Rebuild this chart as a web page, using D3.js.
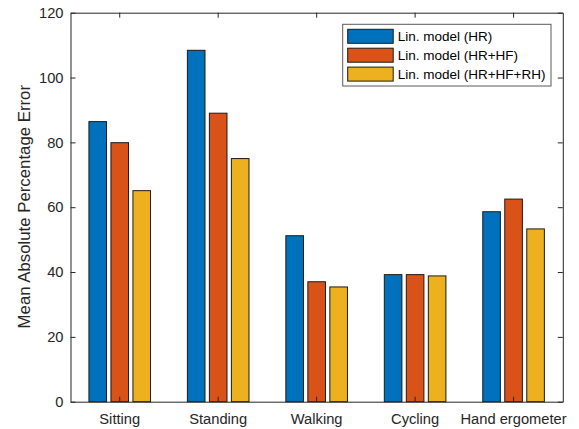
<!DOCTYPE html>
<html><head><meta charset="utf-8">
<script src="https://cdn.jsdelivr.net/npm/d3@7"></script>
<style>html,body{margin:0;padding:0;background:#fff;}</style>
</head><body>
<svg id="chart" width="579" height="429"></svg>
<script>
const categories = ["Sitting", "Standing", "Walking", "Cycling", "Hand ergometer"];
const seriesNames = ["Lin. model (HR)", "Lin. model (HR+HF)", "Lin. model (HR+HF+RH)"];
const linHR = [86.4, 108.4, 51.2, 39.2, 58.6];
const linHRHF = [79.9, 89.0, 37.0, 39.2, 62.5];
const linHRHFRH = [65.1, 75.0, 35.4, 38.8, 53.3];
const yTicks = [0, 20, 40, 60, 80, 100, 120];
const yLabel = "Mean Absolute Percentage Error";
const colors = ["#0072BD", "#D95319", "#EDB120"];

const series = [linHR, linHRHF, linHRHFRH];
const svg = d3.select("#chart");
const L = 70.5, R = 562.8, T = 12.7, B = 401.7;
const axisColor = "#262626";
const font = "Arial, 'Liberation Sans', Helvetica, sans-serif";

const x = d3.scaleBand().domain(categories).range([L, R]).padding(0);
const xs = d3.scaleBand().domain(d3.range(series.length)).range([-33, 33]).paddingInner(0.2).paddingOuter(0.1);
const y = d3.scaleLinear().domain([0, 120]).range([B, T]);

// bars
const g = svg.append("g");
series.forEach((vals, si) => {
  g.selectAll(null).data(vals).enter().append("rect")
    .attr("x", (d, i) => x(categories[i]) + x.bandwidth() / 2 + xs(si))
    .attr("width", xs.bandwidth())
    .attr("y", d => y(d))
    .attr("height", d => B - y(d))
    .attr("fill", colors[si])
    .attr("stroke", "#1a1a1a")
    .attr("stroke-width", 1);
});

// axes
const fs = "14.7px";
const xAxis = d3.axisBottom(x).tickSizeInner(-5).tickSizeOuter(0).tickPadding(12);
const xg = svg.append("g").attr("transform", `translate(0,${B})`).call(xAxis);
const xTop = d3.axisTop(x).tickSizeInner(-5).tickSizeOuter(0).tickFormat("");
const xtg = svg.append("g").attr("transform", `translate(0,${T})`).call(xTop);
const yAxis = d3.axisLeft(y).tickValues(yTicks).tickSizeInner(-5).tickSizeOuter(0).tickPadding(7);
const yg = svg.append("g").attr("transform", `translate(${L},0)`).call(yAxis);
const yRight = d3.axisRight(y).tickValues(yTicks).tickSizeInner(-5).tickSizeOuter(0).tickFormat("");
const yrg = svg.append("g").attr("transform", `translate(${R},0)`).call(yRight);
[xg, xtg, yg, yrg].forEach(a => {
  a.selectAll("path.domain").attr("stroke", axisColor).attr("stroke-width", 1);
  a.selectAll(".tick line").attr("stroke", axisColor).attr("stroke-width", 1);
  a.selectAll("text").attr("fill", axisColor).style("font-family", font).style("font-size", fs);
});
xg.selectAll(".tick text").attr("dy", "0.71em").attr("y", 12);

// y label
svg.append("text")
  .attr("transform", `translate(30,${(T + B) / 2 - 0.5}) rotate(-90)`)
  .attr("text-anchor", "middle")
  .attr("fill", axisColor)
  .style("font-family", font).style("font-size", "16.8px")
  .text(yLabel);

// legend
const lx = 342.7, ly = 24.3, lw = 208.3, lh = 61.7;
const lg = svg.append("g");
lg.append("rect").attr("x", lx).attr("y", ly).attr("width", lw).attr("height", lh)
  .attr("fill", "#fff").attr("stroke", "#5a5a5a").attr("stroke-width", 1);
seriesNames.forEach((name, i) => {
  const cy = ly + 12 + i * 18.9;
  lg.append("rect").attr("x", lx + 5).attr("y", cy - 7).attr("width", 45.5).attr("height", 14)
    .attr("fill", colors[i]).attr("stroke", "#1a1a1a").attr("stroke-width", 1);
  lg.append("text").attr("x", lx + 55).attr("y", cy).attr("dy", "0.35em")
    .attr("fill", "#000")
    .style("font-family", font).style("font-size", "13.5px")
    .text(name);
});
</script>
</body></html>
